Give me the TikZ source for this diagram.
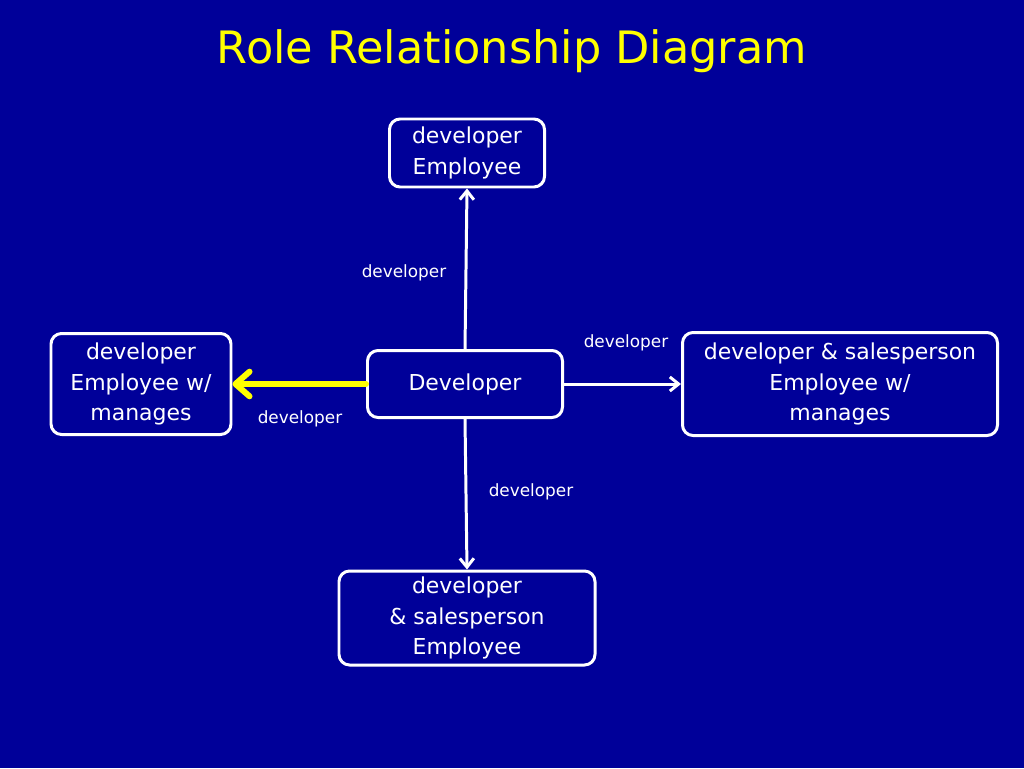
\documentclass[tikz,border=0pt]{standalone}
\usepackage{fontspec}
\setmainfont{DejaVu Sans}
\usetikzlibrary{arrows.meta}
\definecolor{slideblue}{RGB}{0,0,153}
\definecolor{slideyellow}{RGB}{255,255,0}
\begin{document}
\begin{tikzpicture}[x=0.02cm,y=-0.02cm,line join=round]
  \tikzstyle{role}=[draw=white,line width=1.7pt,rounded corners=6pt,text=white,align=center,font=\fontsize{12.5}{17.6}\selectfont,inner sep=0pt]
  \tikzstyle{rel}=[text=white,font=\fontsize{9.6}{11}\selectfont]
  \tikzstyle{link}=[draw=white,line width=1.7pt,-{Straight Barb[length=5pt,width=8pt]}]
  \fill[slideblue] (0,0) rectangle (1024,768);
  \useasboundingbox (0,0) rectangle (1024,768);
  \node[text=slideyellow,font=\fontsize{25.4}{30}\selectfont] (T) at (512,51) {Role Relationship Diagram};
  \node[role, minimum width=195*0.02cm, minimum height=67*0.02cm] (R_0) at (465,384) {\strut Developer};
  \node[role, minimum width=155*0.02cm, minimum height=68*0.02cm] (R_1) at (467,153) {developer\\Employee};
  \node[role, minimum width=180*0.02cm, minimum height=101*0.02cm] (R_2) at (141,384) {developer\\Employee w/\\manages};
  \node[role, minimum width=315*0.02cm, minimum height=103*0.02cm] (R_3) at (840,384) {developer \& salesperson\\Employee w/\\manages};
  \node[role, minimum width=256*0.02cm, minimum height=94*0.02cm] (R_4) at (467,618) {developer\\\& salesperson\\Employee};
  \draw [link] (R_0.north) -- (R_1.south);
  \draw [link] (R_0.east) -- (R_3.west);
  \draw [link] (R_0.south) -- (R_4.north);
  \draw [draw=slideyellow,line width=3.4pt,line cap=round,-{Straight Barb[length=8pt,width=14pt,round]}] (R_0.west) -- (R_2.east);
  \node[rel] (L_1) at (404,273) {developer};
  \node[rel] (L_3) at (626,343) {developer};
  \node[rel] (L_2) at (300,419) {developer};
  \node[rel] (L_4) at (531,492) {developer};
\end{tikzpicture}
\end{document}
